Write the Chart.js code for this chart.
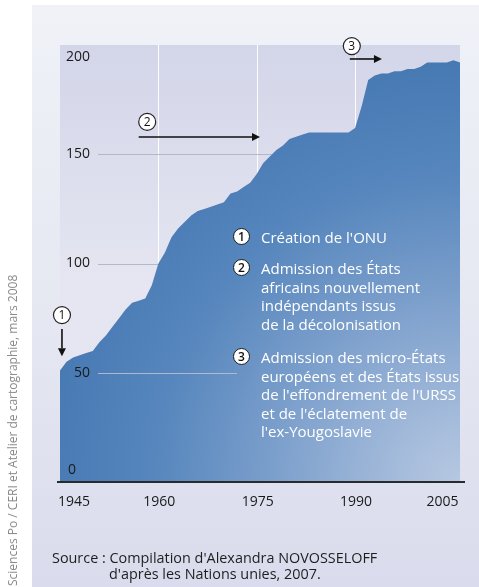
<!DOCTYPE html>
<html><head><meta charset="utf-8">
<script src="https://cdn.jsdelivr.net/npm/chart.js@4.4.0/dist/chart.umd.min.js"></script>
<style>
html,body{margin:0;padding:0;background:#fff;}
#wrap{position:relative;width:479px;height:587px;overflow:hidden;font-family:"Open Sans",sans-serif;}
#bg{position:absolute;left:32px;top:5px;right:0;bottom:0;background:linear-gradient(#f0f2f8,#e6e8f2 50%,#dadced);}
canvas{position:absolute;left:0;top:0;}
.note{position:absolute;color:#fff;font-size:15px;line-height:18.5px;white-space:nowrap;}
.num{position:absolute;width:15px;height:15px;border-radius:50%;background:#fff;border:1.4px solid #1a1a1a;color:#111;font-size:12px;font-weight:600;line-height:15px;text-align:center;}
.src{position:absolute;color:#1e1e1e;font-size:14.4px;line-height:16px;white-space:nowrap;}
#credit{position:absolute;left:6px;top:586px;transform-origin:0 0;transform:rotate(-90deg);color:#8a8a8a;font-size:12px;line-height:14px;white-space:nowrap;}
</style></head>
<body>
<div id="wrap">
<div id="bg"></div>
<canvas id="c" width="479" height="587"></canvas>
<div class="num" style="left:233px;top:228px">1</div>
<div class="note" style="left:261px;top:228px">Création de l'ONU</div>
<div class="num" style="left:233px;top:259px">2</div>
<div class="note" style="left:261px;top:259px">Admission des États<br>africains nouvellement<br>indépendants issus<br>de la décolonisation</div>
<div class="num" style="left:233px;top:348px">3</div>
<div class="note" style="left:261px;top:348px">Admission des micro-États<br>européens et des États issus<br>de l'effondrement de l'URSS<br>et de l'éclatement de<br>l'ex-Yougoslavie</div>
<div class="src" style="left:52px;top:550px">Source : Compilation d'Alexandra NOVOSSELOFF</div>
<div class="src" style="left:109px;top:566px">d'après les Nations unies, 2007.</div>
<div id="credit">Sciences Po / CERI et Atelier de cartographie, mars 2008</div>
</div>
<script>
const years = [1945,1946,1947,1948,1949,1950,1951,1952,1953,1954,1955,1956,1957,1958,1959,1960,1961,1962,1963,1964,1965,1966,1967,1968,1969,1970,1971,1972,1973,1974,1975,1976,1977,1978,1979,1980,1981,1982,1983,1984,1985,1986,1987,1988,1989,1990,1991,1992,1993,1994,1995,1996,1997,1998,1999,2000,2001,2002,2003,2004,2005,2006];
const members = [51,55,57,58,59,60,64,67,71,75,79,82,83,84,90,100,105,112,116,119,122,124,125,126,127,128,132,133,135,137,141,146,149,152,154,157,158,159,160,160,160,160,160,160,160,162,172,184,186,187,187,188,188,189,189,190,192,192,192,192,193,192];
const xTicks = [1945,1960,1975,1990,2005];
const xGrid = [1960,1975,1990];
const yTicks = [0,50,100,150,200];

const deco = {
  id:'deco',
  beforeDraw(chart){
    const {ctx, chartArea:a} = chart;
    const g = ctx.createLinearGradient(0,a.top,0,a.bottom);
    g.addColorStop(0,'#d3d5e9');
    g.addColorStop(0.55,'#e5e6f1');
    g.addColorStop(1,'#e2e4ef');
    ctx.save(); ctx.fillStyle=g; ctx.fillRect(a.left,a.top,a.right-a.left,a.bottom-a.top); ctx.restore();
  },
  beforeDatasetsDraw(chart){
    const {ctx, chartArea:a, scales:{x,y}} = chart;
    ctx.save();
    ctx.strokeStyle='rgba(255,255,255,0.95)'; ctx.lineWidth=1;
    xGrid.forEach(v=>{const px=Math.round(x.getPixelForValue(v))+0.5; ctx.beginPath(); ctx.moveTo(px,a.top); ctx.lineTo(px,a.bottom); ctx.stroke();});
    ctx.strokeStyle='rgba(175,179,198,0.9)';
    [100,150].forEach(v=>{const py=Math.round(y.getPixelForValue(v))+0.5; ctx.beginPath(); ctx.moveTo(a.left+38,py); ctx.lineTo(a.right,py); ctx.stroke();});
    ctx.restore();
  },
  afterDatasetsDraw(chart){
    const {ctx, chartArea:a, scales:{x,y}} = chart;
    ctx.save();
    ctx.strokeStyle='rgba(185,190,208,0.9)'; ctx.lineWidth=1;
    let py=Math.round(y.getPixelForValue(50))+0.5;
    ctx.beginPath(); ctx.moveTo(a.left+38,py); ctx.lineTo(x.getPixelForValue(1972),py); ctx.stroke();
    ctx.strokeStyle='#2a2a2a'; ctx.lineWidth=2;
    py=y.getPixelForValue(0);
    ctx.beginPath(); ctx.moveTo(a.left-3,py); ctx.lineTo(a.right+5,py); ctx.stroke();
    ctx.fillStyle='#1a1a1a'; ctx.font='14px "Open Sans"'; ctx.textBaseline='middle';
    yTicks.forEach(v=>{
      let yy=y.getPixelForValue(v);
      if(v===200) yy+=12;
      if(v===0){ ctx.textAlign='left'; ctx.fillText(String(v), a.left+8, yy-12); }
      else { ctx.textAlign='right'; ctx.fillText(String(v), a.left+30, yy); }
    });
    ctx.font='14px "Open Sans"';
    xTicks.forEach((v,i)=>{
      const xx=x.getPixelForValue(v);
      if(i===0){ctx.textAlign='left'; ctx.fillText(String(v),xx-2,a.bottom+20);}
      else if(i===xTicks.length-1){ctx.textAlign='right'; ctx.fillText(String(v),xx+5,a.bottom+20);}
      else {ctx.textAlign='center'; ctx.fillText(String(v),xx+1,a.bottom+20);}
    });
    const circ=(yr,val,t)=>{
      const cx=x.getPixelForValue(yr), cy=y.getPixelForValue(val);
      ctx.beginPath(); ctx.arc(cx,cy,8.5,0,Math.PI*2); ctx.fillStyle='#fff'; ctx.fill();
      ctx.strokeStyle='#222'; ctx.lineWidth=1.2; ctx.stroke();
      ctx.fillStyle='#111'; ctx.font='12px "Open Sans"'; ctx.textAlign='center'; ctx.textBaseline='middle';
      ctx.fillText(t,cx,cy+0.5);
    };
    const arrow=(x1,y1,x2,y2)=>{
      const p1=[x.getPixelForValue(x1),y.getPixelForValue(y1)], p2=[x.getPixelForValue(x2),y.getPixelForValue(y2)];
      const ang=Math.atan2(p2[1]-p1[1],p2[0]-p1[0]);
      const hl=8, hw=4;
      const bx=p2[0]-hl*Math.cos(ang), by=p2[1]-hl*Math.sin(ang);
      ctx.strokeStyle='#111'; ctx.lineWidth=1.6;
      ctx.beginPath(); ctx.moveTo(p1[0],p1[1]); ctx.lineTo(bx,by); ctx.stroke();
      ctx.fillStyle='#111'; ctx.beginPath(); ctx.moveTo(p2[0],p2[1]);
      ctx.lineTo(bx+hw*Math.sin(ang),by-hw*Math.cos(ang));
      ctx.lineTo(bx-hw*Math.sin(ang),by+hw*Math.cos(ang)); ctx.closePath(); ctx.fill();
    };
    circ(1945.3,76.4,'1'); arrow(1945.3,70,1945.3,57.5);
    circ(1958.3,164.8,'2'); arrow(1957,157.9,1975.5,157.9);
    circ(1989.5,199.5,'3'); arrow(1989.2,193.6,1994.1,193.6);
    ctx.restore();
  }
};

new Chart(document.getElementById('c'),{
  type:'line',
  data:{datasets:[{
    data: years.map((yr,i)=>({x:yr,y:members[i]})),
    fill:'origin', borderWidth:0, pointRadius:0, tension:0,
    backgroundColor(ctx){
      const c=ctx.chart, a=c.chartArea;
      if(!a) return '#4a7cb4';
      const r=Math.hypot(a.right-a.left,a.bottom-a.top)*0.72;
      const g=c.ctx.createRadialGradient(a.right,a.bottom,0,a.right,a.bottom,r);
      g.addColorStop(0,'#b6c8e1');
      g.addColorStop(0.15,'#a4bbdb');
      g.addColorStop(0.45,'#7a9ecb');
      g.addColorStop(0.72,'#5686bd');
      g.addColorStop(1,'#4678b2');
      return g;
    }
  }]},
  options:{
    responsive:false, animation:false,
    layout:{padding:{left:60,right:19,top:45,bottom:105}},
    plugins:{legend:{display:false},tooltip:{enabled:false}},
    scales:{
      x:{type:'linear',min:1945,max:2006,display:false},
      y:{min:0,max:200,display:false}
    }
  },
  plugins:[deco]
});
</script>
</body></html>
